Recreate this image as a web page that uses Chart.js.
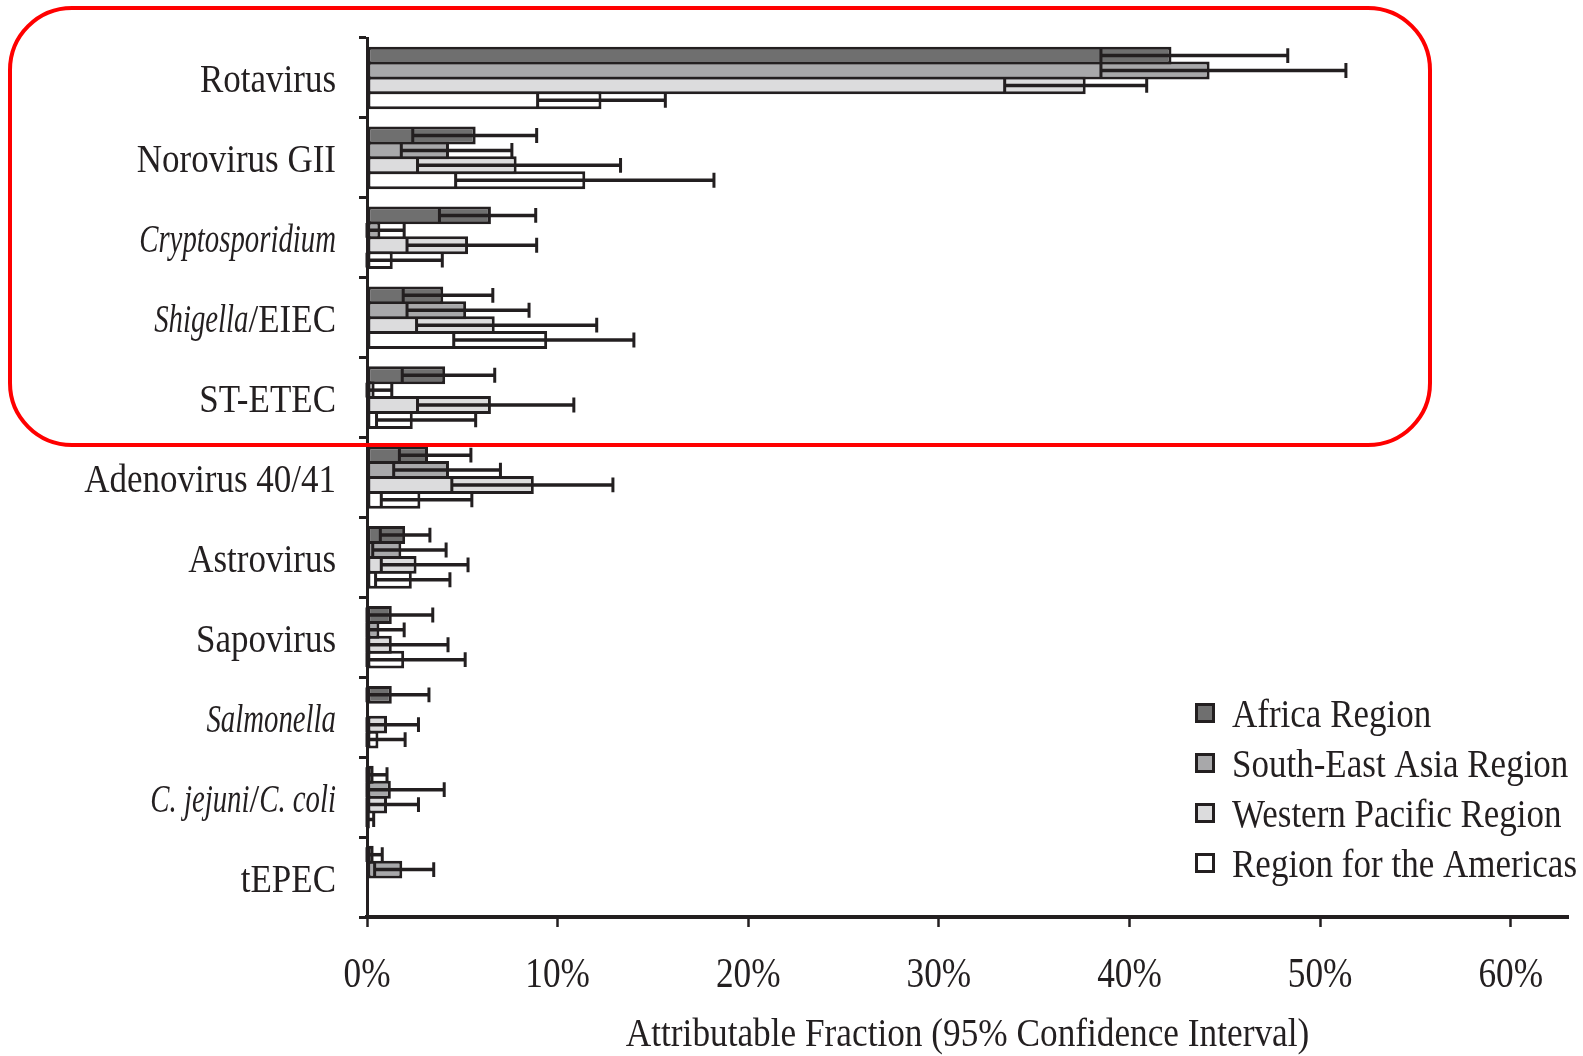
<!DOCTYPE html>
<html>
<head>
<meta charset="utf-8">
<title>Attributable Fraction by Region</title>
<script src="https://cdn.jsdelivr.net/npm/chart.js@4.4.1/dist/chart.umd.min.js"></script>
<style>
  html, body { margin: 0; padding: 0; background: #ffffff; }
  #wrap { position: relative; width: 1583px; height: 1056px; }
  #highlight {
    position: absolute; left: 8px; top: 6px; width: 1424px; height: 441px;
    box-sizing: border-box; border: 4.5px solid #ff0000; border-radius: 64px;
    pointer-events: none;
  }
</style>
</head>
<body>
<div id="wrap">
  <canvas id="chart" width="1583" height="1056"></canvas>
  <div id="highlight"></div>
</div>
<script>
// Pathogens, top to bottom
const pathogens = ['Rotavirus', 'Norovirus GII', 'Cryptosporidium', 'Shigella/EIEC', 'ST-ETEC',
  'Adenovirus 40/41', 'Astrovirus', 'Sapovirus', 'Salmonella', 'C. jejuni/C. coli', 'tEPEC'];

// Italic (genus / species) parts of the pathogen names
const labelParts = {
  'Cryptosporidium': [['Cryptosporidium', true]],
  'Shigella/EIEC': [['Shigella', true], ['/EIEC', false]],
  'Salmonella': [['Salmonella', true]],
  'C. jejuni/C. coli': [['C. jejuni', true], ['/', false], ['C. coli', true]]
};

const regions = ['Africa Region', 'South-East Asia Region', 'Western Pacific Region', 'Region for the Americas'];

// Attributable fraction (%) with 95% confidence interval, per region
const africaAF   = [42.2, 5.7, 6.5, 4.0, 4.1, 3.2, 2.0, 1.3, 1.3, 0.35, 0.35];
const africaLow  = [38.5, 2.4, 3.8, 1.9, 1.85, 1.7, 0.7, 0, 0, 0, 0];
const africaHigh = [48.3, 8.9, 8.85, 6.6, 6.7, 5.45, 3.3, 3.45, 3.25, 1.05, 0.8];

const seaAF   = [44.2, 4.3, 0.7, 5.2, 0.4, 4.3, 1.8, 0.65, null, 1.25, 1.85];
const seaLow  = [38.5, 1.8, 0, 2.1, 0, 1.4, 0.3, 0, null, 0, 0.4];
const seaHigh = [51.35, 7.6, 1.95, 8.5, 1.3, 7.0, 4.15, 1.95, null, 4.05, 3.5];

const wpAF   = [37.7, 7.85, 5.3, 6.7, 6.5, 8.75, 2.6, 1.3, 1.05, 1.05, null];
const wpLow  = [33.45, 2.65, 2.1, 2.6, 2.65, 4.45, 0.75, 0, 0, 0, null];
const wpHigh = [40.9, 13.3, 8.9, 12.05, 10.85, 12.9, 5.3, 4.25, 2.7, 2.7, null];

const amrAF   = [12.3, 11.45, 1.35, 9.45, 2.4, 2.8, 2.35, 1.95, 0.6, 0.15, null];
const amrLow  = [8.95, 4.65, 0, 4.55, 0.5, 0.75, 0.45, 0, 0, 0, null];
const amrHigh = [15.65, 18.2, 3.95, 14.0, 5.7, 5.5, 4.35, 5.15, 2.0, 0.35, null];

const xTicks = [0, 10, 20, 30, 40, 50, 60];
const xTitle = 'Attributable Fraction (95% Confidence Interval)';

const ink = '#231f20';
const fills = ['#6f6f6f', '#a8a8aa', '#dcdcdd', '#ffffff'];
const serif = "'Liberation Serif', 'DejaVu Serif', serif";

const seriesAF = [africaAF, seaAF, wpAF, amrAF];
const seriesLow = [africaLow, seaLow, wpLow, amrLow];
const seriesHigh = [africaHigh, seaHigh, wpHigh, amrHigh];

const datasets = regions.map((name, i) => ({
  label: name,
  data: seriesAF[i],
  ciLow: seriesLow[i],
  ciHigh: seriesHigh[i],
  backgroundColor: fills[i],
  borderColor: ink,
  borderWidth: 3,
  borderSkipped: false,
  barPercentage: 1.2,
  categoryPercentage: 0.746
}));

// Draws a run of text segments, condensed horizontally to suit the tall book face
// segments: [[text, italic]], align: 'left' | 'right' | 'center'
function drawSegments(ctx, segments, x, baseline, size, align) {
  const fontFor = it => (it ? 'italic ' : '') + size + 'px ' + serif;
  const squeeze = it => (it ? 0.72 : 0.875);
  const widths = segments.map(([t, it]) => {
    ctx.font = fontFor(it);
    return ctx.measureText(t).width * squeeze(it);
  });
  const total = widths.reduce((a, b) => a + b, 0);
  let cx = align === 'right' ? x - total : align === 'center' ? x - total / 2 : x;
  segments.forEach(([t, it], k) => {
    ctx.save();
    ctx.font = fontFor(it);
    ctx.textAlign = 'left';
    ctx.textBaseline = 'alphabetic';
    ctx.translate(cx, baseline);
    ctx.scale(squeeze(it), 1);
    ctx.fillText(t, 0, 0);
    ctx.restore();
    cx += widths[k];
  });
}

// Confidence interval whiskers drawn over the bars
const ciPlugin = {
  id: 'ciWhiskers',
  afterDatasetsDraw(chart) {
    const ctx = chart.ctx;
    const xs = chart.scales.x;
    chart.data.datasets.forEach((ds, i) => {
      const meta = chart.getDatasetMeta(i);
      meta.data.forEach((bar, j) => {
        const lo = ds.ciLow[j], hi = ds.ciHigh[j];
        if (lo == null || hi == null || ds.data[j] == null) return;
        const x0 = xs.getPixelForValue(lo);
        const x1 = xs.getPixelForValue(hi);
        const y = bar.y;
        const h = bar.height * 0.83;
        ctx.save();
        ctx.strokeStyle = ink;
        ctx.lineCap = 'butt';
        ctx.lineWidth = 3.5;
        ctx.beginPath();
        ctx.moveTo(x0, y);
        ctx.lineTo(x1, y);
        ctx.stroke();
        ctx.lineWidth = 3;
        ctx.beginPath();
        ctx.moveTo(x0, y - h / 2); ctx.lineTo(x0, y + h / 2);
        ctx.moveTo(x1, y - h / 2); ctx.lineTo(x1, y + h / 2);
        ctx.stroke();
        ctx.restore();
      });
    });
  }
};

// Pathogen names, x tick labels, axis title and region key
const textPlugin = {
  id: 'bookText',
  afterDraw(chart) {
    const ctx = chart.ctx;
    const xs = chart.scales.x;
    const ys = chart.scales.y;
    ctx.save();
    ctx.fillStyle = ink;

    pathogens.forEach((name, j) => {
      const parts = labelParts[name] || [[name, false]];
      drawSegments(ctx, parts, ys.right - 31, ys.getPixelForValue(j) + 14.5, 40, 'right');
    });

    xTicks.forEach(v => {
      ctx.save();
      ctx.font = '42px ' + serif;
      ctx.textAlign = 'center';
      ctx.textBaseline = 'alphabetic';
      ctx.translate(xs.getPixelForValue(v), xs.top + 70);
      ctx.scale(0.84, 1);
      ctx.fillText(v + '%', 0, 0);
      ctx.restore();
    });

    ctx.save();
    ctx.font = '41px ' + serif;
    ctx.textAlign = 'center';
    ctx.textBaseline = 'alphabetic';
    ctx.translate((xs.left + xs.right) / 2, xs.top + 129);
    ctx.scale(0.86, 1);
    ctx.fillText(xTitle, 0, 0);
    ctx.restore();

    const boxX = 1195, textX = 1232, top = 713, step = 50, box = 20;
    chart.data.datasets.forEach((ds, i) => {
      const cy = top + i * step;
      ctx.fillStyle = ds.backgroundColor;
      ctx.fillRect(boxX, cy - box / 2, box, box);
      ctx.strokeStyle = ink;
      ctx.lineWidth = 3;
      ctx.strokeRect(boxX + 1.5, cy - box / 2 + 1.5, box - 3, box - 3);
      ctx.fillStyle = ink;
      drawSegments(ctx, [[ds.label, false]], textX, cy + 14, 40, 'left');
    });
    ctx.restore();
  }
};

new Chart(document.getElementById('chart'), {
  type: 'bar',
  data: { labels: pathogens, datasets },
  plugins: [ciPlugin, textPlugin],
  options: {
    indexAxis: 'y',
    responsive: false,
    animation: false,
    layout: { padding: { top: 38, right: 15, left: 0, bottom: 0 } },
    plugins: { legend: { display: false }, tooltip: { enabled: false } },
    scales: {
      x: {
        type: 'linear',
        min: 0,
        max: 63,
        afterFit(scale) { scale.height = 139; },
        afterBuildTicks(scale) { scale.ticks = xTicks.map(v => ({ value: v })); },
        ticks: { display: false },
        grid: { drawOnChartArea: false, drawTicks: true, tickLength: 10, tickWidth: 2.5, tickColor: ink },
        border: { display: true, color: ink, width: 4 },
        title: { display: false, text: xTitle }
      },
      y: {
        type: 'category',
        offset: true,
        afterFit(scale) { scale.width = 367; },
        ticks: { display: false },
        grid: { offset: true, drawOnChartArea: false, drawTicks: true, tickLength: 8, tickWidth: 3, tickColor: ink },
        border: { display: true, color: ink, width: 3 }
      }
    }
  }
});
</script>
</body>
</html>
